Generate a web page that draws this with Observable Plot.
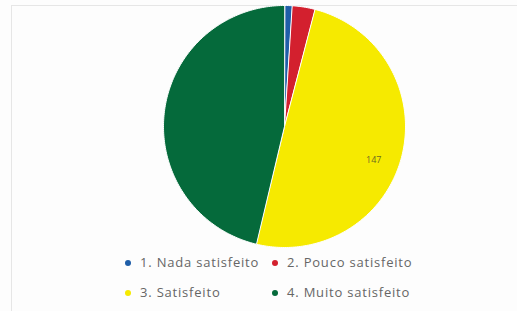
<!DOCTYPE html>
<html>
<head>
<meta charset="utf-8">
<script src="https://cdn.jsdelivr.net/npm/d3@7"></script>
<script src="https://cdn.jsdelivr.net/npm/@observablehq/plot@0.6"></script>
<style>
  body { margin: 0; background: #ffffff; }
  #wrap { position: relative; width: 517px; height: 311px; overflow: hidden; background: #fdfdfd; }
  #frame { position: absolute; left: 11px; top: 5px; width: 520px; height: 320px; border: 1px solid #e6e6e6; box-sizing: border-box; }
  #chart { position: absolute; left: 0; top: 0; }
  .leg { position: absolute; font-family: "Open Sans", sans-serif; font-size: 13px; letter-spacing: 0.8px; color: #666666; white-space: nowrap; line-height: 14px; }
  .leg span.dot { display: inline-block; width: 6px; height: 6px; border-radius: 50%; margin-right: 9px; vertical-align: 1px; }
</style>
</head>
<body>
<div id="wrap">
  <div id="frame"></div>
  <div id="chart"></div>
  <div id="legend"></div>
</div>
<script>
const categories = ["1. Nada satisfeito", "2. Pouco satisfeito", "3. Satisfeito", "4. Muito satisfeito"];
const values = [3, 9, 147, 137];
const colors = ["#1f5ea8", "#d3202e", "#f6ea00", "#056a3b"];
const shownLabels = [false, false, true, false];

const data = categories.map((c, i) => ({category: c, value: values[i]}));
const arcs = d3.pie().sort(null).value(d => d.value)(data);

const pts = [];
arcs.forEach(a => {
  const n = Math.max(4, Math.ceil((a.endAngle - a.startAngle) * 60));
  pts.push({category: a.data.category, x: 0, y: 0});
  for (let k = 0; k <= n; k++) {
    const t = a.startAngle + (a.endAngle - a.startAngle) * k / n;
    pts.push({category: a.data.category, x: Math.sin(t), y: Math.cos(t)});
  }
});

const labels = arcs.filter((a, i) => shownLabels[i]).map(a => {
  const m = (a.startAngle + a.endAngle) / 2;
  return {x: 0.76 * Math.sin(m), y: 0.76 * Math.cos(m), text: String(a.data.value)};
});

const plot = Plot.plot({
  width: 517,
  height: 311,
  margin: 0,
  style: {background: "transparent", overflow: "visible"},
  x: {domain: [-1, 1], range: [163, 405], axis: null},
  y: {domain: [-1, 1], range: [247, 5], axis: null},
  color: {domain: categories, range: colors},
  marks: [
    Plot.line(pts, {x: "x", y: "y", z: "category", fill: "category", stroke: "#ffffff", strokeWidth: 1, curve: "linear-closed"}),
    Plot.text(labels, {x: "x", y: "y", dy: 11, text: "text", fill: "#6b6a20", fontSize: 9, fontFamily: "Open Sans"})
  ]
});
document.getElementById("chart").appendChild(plot);

const legPos = [[125, 255], [272, 255], [125, 285], [272, 285]];
const leg = document.getElementById("legend");
categories.forEach((c, i) => {
  const d = document.createElement("div");
  d.className = "leg";
  d.style.left = legPos[i][0] + "px";
  d.style.top = legPos[i][1] + "px";
  d.innerHTML = `<span class="dot" style="background:${colors[i]}"></span>${c}`;
  leg.appendChild(d);
});
</script>
</body>
</html>
